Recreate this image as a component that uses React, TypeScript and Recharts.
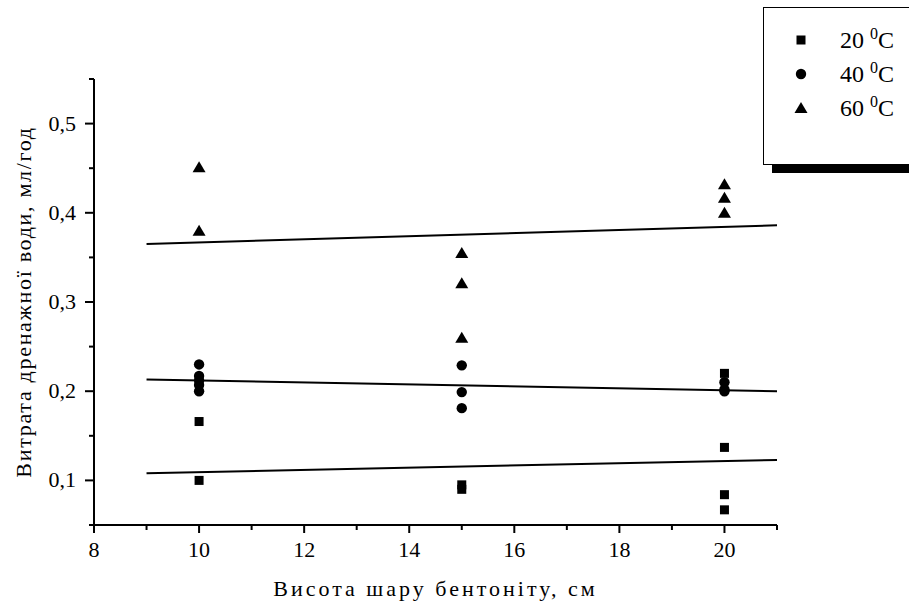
import { ScatterChart, Scatter, XAxis, YAxis, Label } from 'recharts'

// x positions (bentonite layer height, cm) and y values (drain water flow, ml/h)
const heights20 = [10, 10, 15, 15, 20, 20, 20, 20]
const flow20 = [0.1, 0.166, 0.09, 0.095, 0.067, 0.084, 0.137, 0.22]

const heights40 = [10, 10, 10, 10, 10, 15, 15, 15, 20, 20, 20]
const flow40 = [0.2, 0.207, 0.212, 0.217, 0.23, 0.181, 0.199, 0.229, 0.2, 0.202, 0.21]

const heights60 = [10, 10, 15, 15, 15, 20, 20, 20]
const flow60 = [0.38, 0.451, 0.26, 0.321, 0.355, 0.4, 0.417, 0.432]

// linear fits, evaluated at the ends of the fit range
const fitX = [9, 21]
const fit20 = [0.108, 0.123]
const fit40 = [0.213, 0.2]
const fit60 = [0.365, 0.386]

const xTicks = [8, 9, 10, 11, 12, 13, 14, 15, 16, 17, 18, 19, 20, 21]
const yTicks = [0.05, 0.1, 0.15, 0.2, 0.25, 0.3, 0.35, 0.4, 0.45, 0.5, 0.55]

const legendLabels = ['20', '40', '60']

const font = '"Liberation Serif", "DejaVu Serif", serif'

const zip = (xs: number[], ys: number[]) => xs.map((x, i) => ({ x, y: ys[i] }))

const Square = ({ cx, cy }: any) => <rect x={cx - 4.5} y={cy - 4.5} width={9} height={9} fill="#000" />
const Dot = ({ cx, cy }: any) => <circle cx={cx} cy={cy} r={5.2} fill="#000" />
const Tri = ({ cx, cy }: any) => <path d={`M${cx},${cy - 6} L${cx + 6.5},${cy + 5} L${cx - 6.5},${cy + 5} Z`} fill="#000" />
const NoMark = () => <g />

const XTick = ({ x, y, payload }: any) => {
  const major = payload.value % 2 === 0
  return (
    <g>
      <line x1={x} y1={y} x2={x} y2={y + (major ? 8 : 5)} stroke="#000" strokeWidth={2} />
      {major && (
        <text x={x} y={y + 32} textAnchor="middle" fontSize={22} fontFamily={font} fill="#000">
          {payload.value}
        </text>
      )}
    </g>
  )
}

const YTick = ({ x, y, payload }: any) => {
  const major = Math.round(payload.value * 100) % 10 === 0
  return (
    <g>
      <line x1={x} y1={y} x2={x - (major ? 9 : 5)} y2={y} stroke="#000" strokeWidth={2} />
      {major && (
        <text x={x - 18} y={y + 7} textAnchor="end" fontSize={22} fontFamily={font} fill="#000">
          {payload.value.toFixed(1).replace('.', ',')}
        </text>
      )}
    </g>
  )
}

const legendMarks = [Square, Dot, Tri]

export default function App() {
  return (
    <div style={{ position: 'absolute', left: 0, top: 0, width: 909, height: 603, overflow: 'hidden', background: '#fff' }}>
      <ScatterChart width={909} height={603} margin={{ top: 79, right: 132, bottom: 0, left: 0 }}>
        <XAxis
          type="number"
          dataKey="x"
          domain={[8, 21]}
          ticks={xTicks}
          interval={0}
          height={78}
          tickSize={0}
          tickMargin={0}
          tickLine={false}
          axisLine={{ stroke: '#000', strokeWidth: 2 }}
          tick={<XTick />}
          allowDataOverflow
        >
          <Label value="Висота шару бентоніту, см" position="insideBottom" offset={7} fontSize={22} fontFamily={font} fill="#000" letterSpacing={3} />
        </XAxis>
        <YAxis
          type="number"
          dataKey="y"
          domain={[0.05, 0.55]}
          ticks={yTicks}
          interval={0}
          width={94}
          tickSize={0}
          tickMargin={0}
          tickLine={false}
          axisLine={{ stroke: '#000', strokeWidth: 2 }}
          tick={<YTick />}
          allowDataOverflow
        >
          <Label value="Витрата дренажної води, мл/год" angle={-90} position="insideLeft" offset={23} fontSize={22} fontFamily={font} fill="#000" letterSpacing={1.7} style={{ textAnchor: 'middle' }} />
        </YAxis>
        <Scatter data={zip(fitX, fit20)} line={{ stroke: '#000', strokeWidth: 2 }} shape={<NoMark />} isAnimationActive={false} />
        <Scatter data={zip(fitX, fit40)} line={{ stroke: '#000', strokeWidth: 2 }} shape={<NoMark />} isAnimationActive={false} />
        <Scatter data={zip(fitX, fit60)} line={{ stroke: '#000', strokeWidth: 2 }} shape={<NoMark />} isAnimationActive={false} />
        <Scatter data={zip(heights20, flow20)} shape={<Square />} isAnimationActive={false} />
        <Scatter data={zip(heights40, flow40)} shape={<Dot />} isAnimationActive={false} />
        <Scatter data={zip(heights60, flow60)} shape={<Tri />} isAnimationActive={false} />
      </ScatterChart>

      {/* legend box with shadow */}
      <div style={{ position: 'absolute', left: 772, top: 164, width: 160, height: 9, background: '#000' }} />
      <div style={{ position: 'absolute', left: 763, top: 7, width: 160, height: 156, border: '1.5px solid #000', background: '#fff' }}>
        {legendLabels.map((t, i) => {
          const Mark = legendMarks[i]
          return (
            <div key={t} style={{ position: 'absolute', left: 0, top: 20 + i * 34, height: 24, width: 160 }}>
              <svg width={40} height={24} style={{ position: 'absolute', left: 18, top: 0 }}>
                <Mark cx={19} cy={12} />
              </svg>
              <span style={{ position: 'absolute', left: 76, top: 0, fontFamily: font, fontSize: 24, lineHeight: '24px', whiteSpace: 'nowrap' }}>
                {t} <sup style={{ fontSize: 16, verticalAlign: 'top', position: 'relative', top: -6 }}>0</sup>C
              </span>
            </div>
          )
        })}
      </div>
    </div>
  )
}
